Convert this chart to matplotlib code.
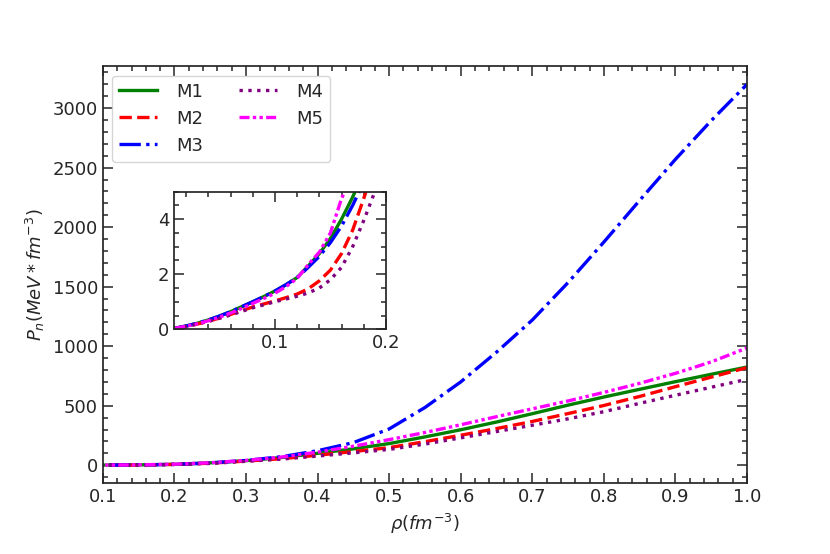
import numpy as np
import matplotlib
matplotlib.use("Agg")
import matplotlib.pyplot as plt
from matplotlib.ticker import MultipleLocator

# --- density grid (fm^-3) ---
rho = [0.01, 0.02, 0.03, 0.04, 0.05, 0.06, 0.07, 0.08, 0.09, 0.10,
       0.11, 0.12, 0.13, 0.14, 0.15, 0.16, 0.17, 0.18, 0.19, 0.20,
       0.25, 0.30, 0.35, 0.40, 0.45, 0.50, 0.55, 0.60, 0.65, 0.70,
       0.75, 0.80, 0.85, 0.90, 0.95, 1.00]

# --- neutron pressure per model (MeV fm^-3) ---
p_m1 = [0.04, 0.12, 0.22, 0.34, 0.48, 0.64, 0.82, 1.00, 1.19, 1.39,
        1.62, 1.88, 2.30, 2.75, 3.30, 4.00, 4.80, 5.70, 6.70, 7.80,
        20, 38, 65, 100, 138, 182, 238, 298, 363, 433,
        505, 573, 638, 702, 764, 825]
p_m2 = [0.03, 0.10, 0.19, 0.29, 0.41, 0.54, 0.68, 0.81, 0.92, 1.03,
        1.15, 1.28, 1.47, 1.76, 2.15, 2.75, 3.60, 4.75, 6.00, 7.20,
        17, 35, 55, 84, 115, 148, 198, 252, 308, 368,
        434, 502, 578, 660, 740, 820]
p_m3 = [0.04, 0.12, 0.22, 0.34, 0.48, 0.64, 0.82, 1.00, 1.19, 1.39,
        1.62, 1.88, 2.25, 2.65, 3.15, 3.75, 4.50, 5.35, 6.30, 7.40,
        19, 40, 72, 122, 190, 305, 485, 700, 950, 1220,
        1535, 1875, 2225, 2570, 2895, 3200]
p_m4 = [0.03, 0.10, 0.19, 0.29, 0.40, 0.52, 0.65, 0.78, 0.89, 1.00,
        1.10, 1.20, 1.32, 1.50, 1.80, 2.25, 3.00, 3.95, 5.00, 6.20,
        15, 33, 52, 77, 104, 133, 178, 230, 283, 336,
        390, 450, 520, 588, 655, 722]
p_m5 = [0.04, 0.11, 0.20, 0.31, 0.44, 0.59, 0.76, 0.94, 1.12, 1.31,
        1.55, 1.85, 2.35, 2.80, 3.50, 4.75, 5.60, 6.60, 7.70, 8.80,
        21, 41, 69, 110, 160, 215, 275, 340, 408, 474,
        540, 612, 688, 772, 868, 985]

labels = ["M1", "M2", "M3", "M4", "M5"]
series = [p_m1, p_m2, p_m3, p_m4, p_m5]
colors = ["green", "red", "blue", "purple", "magenta"]
styles = ["-", "--", "-.", ":", (0, (3, 1, 1, 1, 1, 1))]

plt.rcParams["font.family"] = "DejaVu Sans"
plt.rcParams["text.color"] = "#262626"
plt.rcParams["axes.labelcolor"] = "#262626"
plt.rcParams["xtick.color"] = "#262626"
plt.rcParams["ytick.color"] = "#262626"
plt.rcParams["axes.edgecolor"] = "#262626"
plt.rcParams["axes.linewidth"] = 1.25


def style_ticks(ax):
    ax.tick_params(which="both", direction="in", top=True, right=True,
                   labelsize=13, width=1.1)
    ax.tick_params(which="major", length=7)
    ax.tick_params(which="minor", length=3.5)


fig = plt.figure(figsize=(8.3, 5.54), dpi=100)
ax = fig.add_axes([0.124, 0.128, 0.776, 0.752])

for y, lab, c, ls in zip(series, labels, colors, styles):
    ax.plot(rho, y, color=c, linestyle=ls, lw=2.4, label=lab)

ax.set_xlim(0.1, 1.0)
ax.set_ylim(-150, 3350)
ax.xaxis.set_major_locator(MultipleLocator(0.1))
ax.xaxis.set_minor_locator(MultipleLocator(0.02))
ax.yaxis.set_major_locator(MultipleLocator(500))
ax.yaxis.set_minor_locator(MultipleLocator(100))
style_ticks(ax)
ax.set_xlabel(r"$\rho(fm^{-3})$", fontsize=13)
ax.set_ylabel(r"$P_n(MeV*fm^{-3})$", fontsize=13)
ax.legend(loc="upper left", ncol=2, fontsize=13, columnspacing=2.0,
          handletextpad=1.05, handlelength=2.1, borderaxespad=0.5)

# --- inset: low density region ---
ins = fig.add_axes([0.2096, 0.4056, 0.2554, 0.2486])
for y, c, ls in zip(series, colors, styles):
    ins.plot(rho, y, color=c, linestyle=ls, lw=2.4)
ins.set_xlim(0.009, 0.2)
ins.set_ylim(0, 5)
ins.xaxis.set_major_locator(MultipleLocator(0.1))
ins.xaxis.set_minor_locator(MultipleLocator(0.02))
ins.yaxis.set_major_locator(MultipleLocator(2))
ins.yaxis.set_minor_locator(MultipleLocator(0.5))
style_ticks(ins)

fig.savefig("out.png", dpi=100)
